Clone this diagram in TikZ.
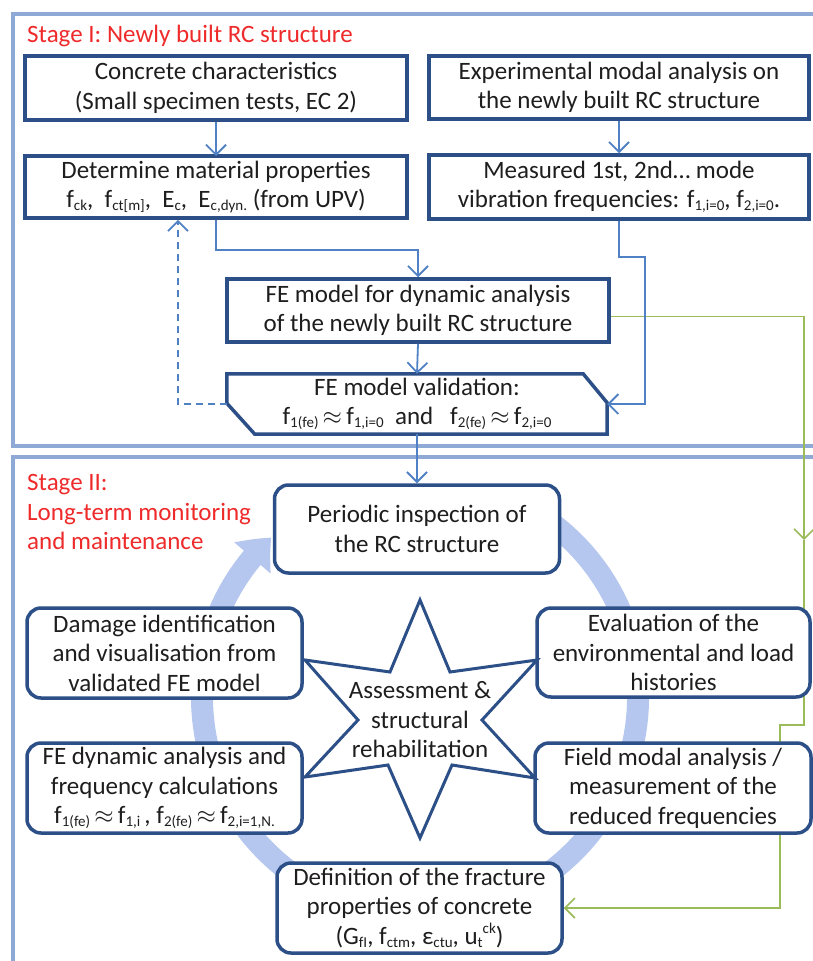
\documentclass[tikz,border=0pt]{standalone}
\usepackage{fontspec}
\setmainfont{Carlito}
\usetikzlibrary{arrows.meta,bending}
\definecolor{boxc}{HTML}{2B4F86}
\definecolor{conc}{HTML}{4F81C4}
\definecolor{framec}{HTML}{8EA9D6}
\definecolor{greenc}{HTML}{9BBB59}
\definecolor{arcc}{HTML}{B5C7EF}
\definecolor{redc}{HTML}{EE2A2A}
\definecolor{txt}{HTML}{1E1E1E}
\newcommand{\lo}[1]{\raisebox{-0.12em}{\fontsize{15}{15}\selectfont #1}}
\newcommand{\hi}[1]{\raisebox{0.45em}{\fontsize{15}{15}\selectfont #1}}
\newcommand{\apx}{\,$\approx$\,}
\pgfdeclarelayer{bg}
\pgfsetlayers{bg,main}
\tikzset{
  sqbox/.style={draw=boxc, line width=3.5pt, fill=white, inner sep=0pt, align=center, text=txt},
  rbox/.style={sqbox, rounded corners=14pt},
  conn/.style={draw=conc, line width=1.8pt, -{Straight Barb[length=10pt,width=20pt]}},
  greenl/.style={draw=greenc, line width=1.6pt},
  gtip/.style={-{Straight Barb[length=10pt,width=20pt]}},
  frame/.style={draw=framec, line width=4pt},
  title/.style={text=redc, align=left, inner sep=0pt},
}
\begin{document}
\begin{tikzpicture}[x=1pt,y=-1pt,font=\fontsize{25}{29.5}\selectfont]
\useasboundingbox (0,0) rectangle (813,961);

% Stage I nodes
\node[title,anchor=west] (t1) at (27,36) {Stage I: Newly built RC structure};
\node[sqbox,minimum width=382pt,minimum height=64pt] (cc) at (216,88) {Concrete characteristics\\(Small specimen tests, EC 2)};
\node[sqbox,minimum width=380pt,minimum height=63pt] (ema) at (619,87.5) {Experimental modal analysis on\\the newly built RC structure};
\node[sqbox,minimum width=382pt,minimum height=62pt] (dmp) at (216,187) {Determine material properties\\f\lo{ck},\ \ f\lo{ct[m]},\ \ E\lo{c},\ \ E\lo{c,dyn.} (from UPV)};
\node[sqbox,minimum width=380pt,minimum height=64pt] (meas) at (619,187) {Measured 1st, 2nd\dots\ mode\\vibration frequencies: f\lo{1,i=0}, f\lo{2,i=0}.};
\node[sqbox,minimum width=382pt,minimum height=63pt] (fem) at (418,310.5) {FE model for dynamic analysis\\of the newly built RC structure};
\node[align=center,inner sep=0pt,minimum width=380pt,minimum height=60pt,text=txt] (val) at (417,404) {FE model validation:\\f\lo{1(fe)}\apx f\lo{1,i=0}\ \ and\ \ \ f\lo{2(fe)}\apx f\lo{2,i=0}};
\draw[boxc,line width=3.5pt,line join=miter] (val.north west) -- ([xshift=-24pt]val.north east) -- ([yshift=-29pt]val.north east) -- (val.south east) -- ([xshift=28pt]val.south west) -- ([yshift=31pt]val.south west) -- cycle;

% Stage II nodes
\node[title,anchor=west] (t2) at (27,512) {Stage II:\\Long-term monitoring\\and maintenance};
\node[rbox,minimum width=285pt,minimum height=88pt] (pi) at (417,529) {Periodic inspection of\\the RC structure};
\node[rbox,minimum width=275pt,minimum height=90pt] (dam) at (164.5,653) {Damage identification\\and visualisation from\\validated FE model};
\node[rbox,minimum width=273pt,minimum height=89pt] (eva) at (673.5,652.5) {Evaluation of the\\environmental and load\\histories};
\node[rbox,minimum width=275pt,minimum height=90pt] (fed) at (164.5,788) {FE dynamic analysis and\\frequency calculations\\f\lo{1(fe)}\apx f\lo{1,i}\,, f\lo{2(fe)}\apx f\lo{2,i=1,N.}};
\node[rbox,minimum width=276pt,minimum height=90pt] (fma) at (673,788) {Field modal analysis /\\measurement of the\\reduced frequencies};
\node[rbox,minimum width=285pt,minimum height=90pt] (def) at (419.5,908) {Definition of the fracture\\properties of concrete\\(G\lo{fI}, f\lo{ctm}, ε\lo{ctu}, u\lo{t}\hi{ck})};

% star
\draw[boxc,line width=3pt,fill=white,line join=miter] (420,600) -- (450,672) -- (537,660) -- (482,720) -- (535,778) -- (452,765) -- (420,838) -- (388,765) -- (305,777) -- (358,720) -- (305,660) -- (390,672) -- cycle;
\node[align=center,inner sep=0pt,text=txt] (star) at (420,720) {Assessment \&\\structural\\rehabilitation};

% connectors
\draw[conn] (cc.south) -- (dmp.south |- 0,156);
\draw[conn] (ema.south) -- (meas.north);
\draw[conn] (dmp.south) -- ++(0,30) -| (fem.north);
\draw[conn] (meas.south) -- ++(0,36) -| (645,404) -- (val.east);
\draw[conn] (fem.south) -- (val.north);
\draw[conn,dashed,dash pattern=on 7pt off 5pt] (val.west) -| ([xshift=-38pt]dmp.south);
\draw[conn] (val.south) -- (pi.north);

\begin{pgfonlayer}{bg}
\begin{scope}
\clip (0,0) rectangle (813,961);
\draw[frame] (13,14) rectangle (830,446);
\draw[frame] (13,457) rectangle (830,985);
\end{scope}
\draw[arcc,line width=22pt,-{Triangle[width=46pt,length=28pt,bend]}] (529,508.2) arc[start angle=60,end angle=-227,radius=218pt];
\coordinate (gm) at (804,540);
\draw[greenl,gtip] ([yshift=-6pt]fem.east) -| (gm);
\draw[greenl,gtip] (gm) -- (804,725) -- (780,725) -- (780,908) -- (def.east);
\end{pgfonlayer}
\end{tikzpicture}
\end{document}
